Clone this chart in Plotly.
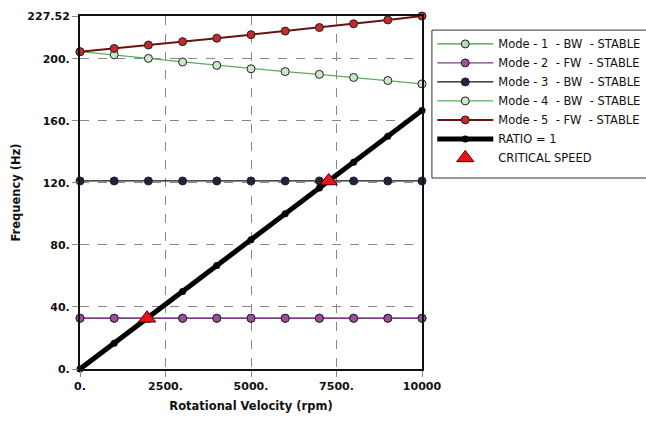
import plotly.graph_objects as go

# Rotor speed samples (rpm)
speed_rpm = [0, 1000, 2000, 3000, 4000, 5000, 6000, 7000, 8000, 9000, 10000]

# Whirl frequencies (Hz) per mode
mode1_bw = [32.7] * 11
mode2_fw = [32.7] * 11
mode3_bw = [121.2] * 11
mode4_bw = [204.5, 202.5, 200.2, 197.9, 195.7, 193.5, 191.7, 189.9, 187.9, 185.9, 183.8]
mode5_fw = [204.5, 206.6, 208.8, 211.0, 213.2, 215.5, 217.8, 220.1, 222.5, 225.0, 227.52]

# Synchronous excitation line (1 per rev)
ratio_rpm = [0, 1000, 2000, 3000, 4000, 5000, 6000, 7000, 8000, 9000, 10000]
ratio_hz = [r / 60.0 for r in ratio_rpm]

# Critical speeds (intersections with the 1x line)
crit_rpm = [1962, 7272]
crit_hz = [32.7, 121.2]

y_ticks = [0, 40, 80, 120, 160, 200, 227.52]
y_labels = ["0.", "40.", "80.", "120.", "160.", "200.", "227.52"]
x_ticks = [0, 2500, 5000, 7500, 10000]
x_labels = ["0.", "2500.", "5000.", "7500.", "10000"]

FONT = "DejaVu Sans"

fig = go.Figure()

def mode_trace(name, y, line_color, marker_color, width=1.3):
    return go.Scatter(
        x=speed_rpm, y=y, name=name, mode="lines+markers",
        line=dict(color=line_color, width=width),
        marker=dict(symbol="circle", size=8, color=marker_color,
                    line=dict(color="#222222", width=1)),
        cliponaxis=False,
    )

fig.add_trace(mode_trace("Mode - 1  - BW  - STABLE", mode1_bw, "#3f9a3f", "#b5dbb0"))
fig.add_trace(mode_trace("Mode - 2  - FW  - STABLE", mode2_fw, "#7a3c82", "#9c4e9c"))
fig.add_trace(mode_trace("Mode - 3  - BW  - STABLE", mode3_bw, "#111111", "#1b2540"))
fig.add_trace(mode_trace("Mode - 4  - BW  - STABLE", mode4_bw, "#5aae5a", "#cde8c6"))
fig.add_trace(mode_trace("Mode - 5  - FW  - STABLE", mode5_fw, "#6a1212", "#c32a2a", width=2))

fig.add_trace(go.Scatter(
    x=ratio_rpm, y=ratio_hz, name="RATIO = 1", mode="lines+markers",
    line=dict(color="#000000", width=5),
    marker=dict(symbol="circle", size=7, color="#000000"),
    cliponaxis=False,
))

fig.add_trace(go.Scatter(
    x=crit_rpm, y=crit_hz, name="CRITICAL SPEED", mode="markers",
    marker=dict(symbol="triangle-up", size=15, color="#e8141c",
                line=dict(color="#5a0000", width=1)),
    cliponaxis=False,
))

# Legend frame
fig.add_shape(type="rect", xref="paper", yref="paper",
              x0=1.029, x1=1.75, y0=0.541, y1=0.960,
              line=dict(color="#333333", width=1), fillcolor="rgba(0,0,0,0)")

fig.update_layout(
    width=646, height=421,
    margin=dict(l=80, r=224, t=16, b=52, autoexpand=False),
    paper_bgcolor="white", plot_bgcolor="white",
    font=dict(family=FONT, size=11, color="#111111"),
    showlegend=True,
    legend=dict(x=1.03, y=0.962, xanchor="left", yanchor="top",
                bgcolor="rgba(0,0,0,0)", borderwidth=0,
                font=dict(family=FONT, size=11.5, color="#111111"),
                tracegroupgap=0, itemwidth=56),
)

fig.update_xaxes(
    range=[0, 10000], tickvals=x_ticks, ticktext=x_labels,
    showgrid=True, gridcolor="#888888", griddash="dash", gridwidth=1,
    showline=True, linecolor="#111111", linewidth=2, mirror=True,
    ticks="outside", ticklen=6, tickcolor="#888888",
    tickfont=dict(family=FONT, size=11, color="#111111", weight="bold"),
    title=dict(text="<b>Rotational Velocity (rpm)</b>", font=dict(family=FONT, size=11.5), standoff=10),
    zeroline=False,
)
fig.update_yaxes(
    range=[0, 227.52], tickvals=y_ticks, ticktext=y_labels,
    showgrid=True, gridcolor="#888888", griddash="dash", gridwidth=1,
    showline=True, linecolor="#111111", linewidth=2, mirror=True,
    ticks="outside", ticklen=6, tickcolor="#888888",
    tickfont=dict(family=FONT, size=11, color="#111111", weight="bold"),
    title=dict(text="<b>Frequency (Hz)</b>", font=dict(family=FONT, size=11.5), standoff=4),
    zeroline=False,
)

fig.write_html("out.html")
